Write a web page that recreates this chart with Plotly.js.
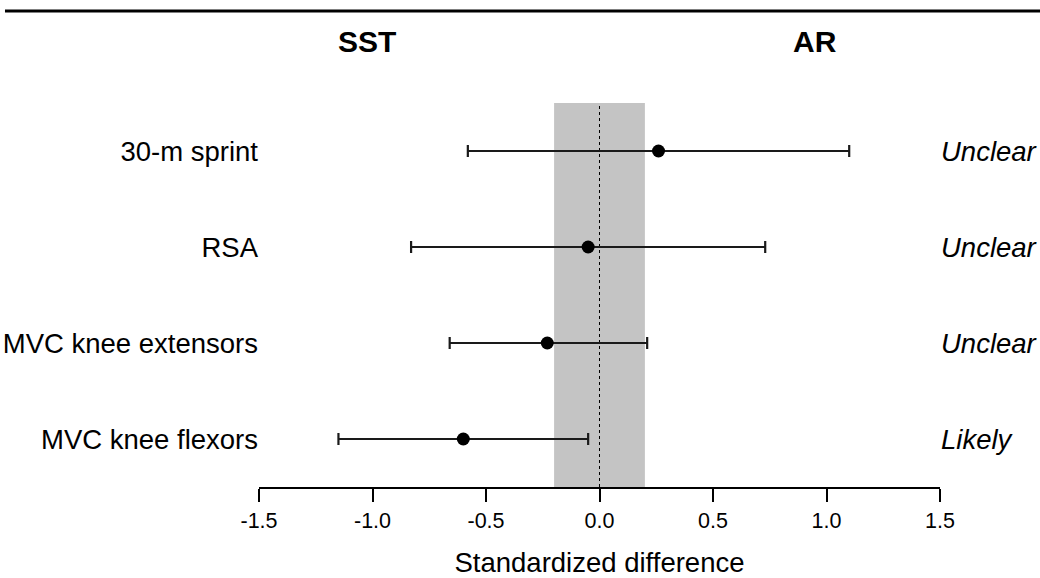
<!DOCTYPE html>
<html>
<head>
<meta charset="utf-8">
<script src="https://cdn.plot.ly/plotly-3.0.1.min.js"></script>
<style>html,body{margin:0;padding:0;background:#fff;}#chart{width:1040px;height:578px;}</style>
</head>
<body>
<div id="chart"></div>
<script>
const outcomes = ["30-m sprint", "RSA", "MVC knee extensors", "MVC knee flexors"];
const effects = [0.26, -0.05, -0.23, -0.60];
const lowerCL = [-0.58, -0.83, -0.66, -1.15];
const upperCL = [1.10, 0.73, 0.21, -0.05];
const inferences = ["Unclear", "Unclear", "Unclear", "Likely"];
const xTickVals = [-1.5, -1.0, -0.5, 0.0, 0.5, 1.0, 1.5];
const xTickText = ["-1.5", "-1.0", "-0.5", "0.0", "0.5", "1.0", "1.5"];
const trivialBand = [-0.2, 0.2];
const groupLeft = "SST";
const groupRight = "AR";

const rowPos = outcomes.map((_, i) => outcomes.length - 1 - i);
const FONT = "Liberation Sans, Arial, Helvetica, sans-serif";

const trace = {
  type: "scatter",
  mode: "markers",
  x: effects,
  y: rowPos,
  marker: {color: "#000", size: 13, symbol: "circle"},
  error_x: {
    type: "data",
    symmetric: false,
    array: effects.map((e, i) => upperCL[i] - e),
    arrayminus: effects.map((e, i) => e - lowerCL[i]),
    color: "#1a1a1a",
    thickness: 2.2,
    width: 6
  },
  showlegend: false,
  hoverinfo: "x"
};

const rightTrace = {
  type: "scatter",
  mode: "markers",
  x: effects,
  y: rowPos,
  yaxis: "y2",
  marker: {opacity: 0},
  showlegend: false,
  hoverinfo: "skip"
};

const layout = {
  width: 1040,
  height: 578,
  margin: {l: 259, r: 100, t: 103, b: 91},
  paper_bgcolor: "#fff",
  plot_bgcolor: "rgba(0,0,0,0)",
  font: {family: FONT, color: "#000"},
  xaxis: {
    range: [-1.5, 1.5],
    tickvals: xTickVals,
    ticktext: xTickText,
    ticks: "outside",
    ticklen: 13,
    tickwidth: 2,
    tickcolor: "#000",
    showline: true,
    linewidth: 2,
    linecolor: "#000",
    showgrid: false,
    zeroline: false,
    tickfont: {size: 21.5, family: FONT, color: "#000"},
    title: {text: "Standardized difference", font: {size: 27.5, family: FONT, color: "#000"}, standoff: 25},
    fixedrange: true
  },
  yaxis: {
    range: [-0.5, 3.5],
    tickvals: rowPos,
    ticktext: outcomes,
    ticks: "",
    showline: false,
    showgrid: false,
    zeroline: false,
    tickfont: {size: 27.5, family: FONT, color: "#000"},
    fixedrange: true
  },
  yaxis2: {
    range: [-0.5, 3.5],
    overlaying: "y",
    side: "right",
    tickvals: rowPos,
    ticktext: inferences,
    ticks: "",
    showline: false,
    showgrid: false,
    zeroline: false,
    tickfont: {size: 27.5, family: FONT, color: "#000", style: "italic"},
    fixedrange: true
  },
  shapes: [
    {type: "rect", xref: "x", yref: "paper", x0: trivialBand[0], x1: trivialBand[1], y0: 0, y1: 1,
     fillcolor: "#c4c4c4", line: {width: 0}, layer: "below"},
    {type: "line", xref: "x", yref: "paper", x0: 0, x1: 0, y0: 0, y1: 1,
     line: {color: "#000", width: 1, dash: "dot"}, layer: "below"},
    {type: "line", xref: "paper", yref: "paper", x0: -0.373, x1: 1.15, y0: 1.2396, y1: 1.2396,
     line: {color: "#000", width: 3}}
  ],
  annotations: [
    {text: "<b>" + groupLeft + "</b>", xref: "paper", yref: "paper", x: 0.1586, y: 1.159,
     xanchor: "center", yanchor: "middle", showarrow: false, font: {size: 30, family: FONT, color: "#000"}},
    {text: "<b>" + groupRight + "</b>", xref: "paper", yref: "paper", x: 0.8164, y: 1.159,
     xanchor: "center", yanchor: "middle", showarrow: false, font: {size: 30, family: FONT, color: "#000"}}
  ]
};

Plotly.newPlot("chart", [trace, rightTrace], layout, {displayModeBar: false, staticPlot: true});
</script>
</body>
</html>
